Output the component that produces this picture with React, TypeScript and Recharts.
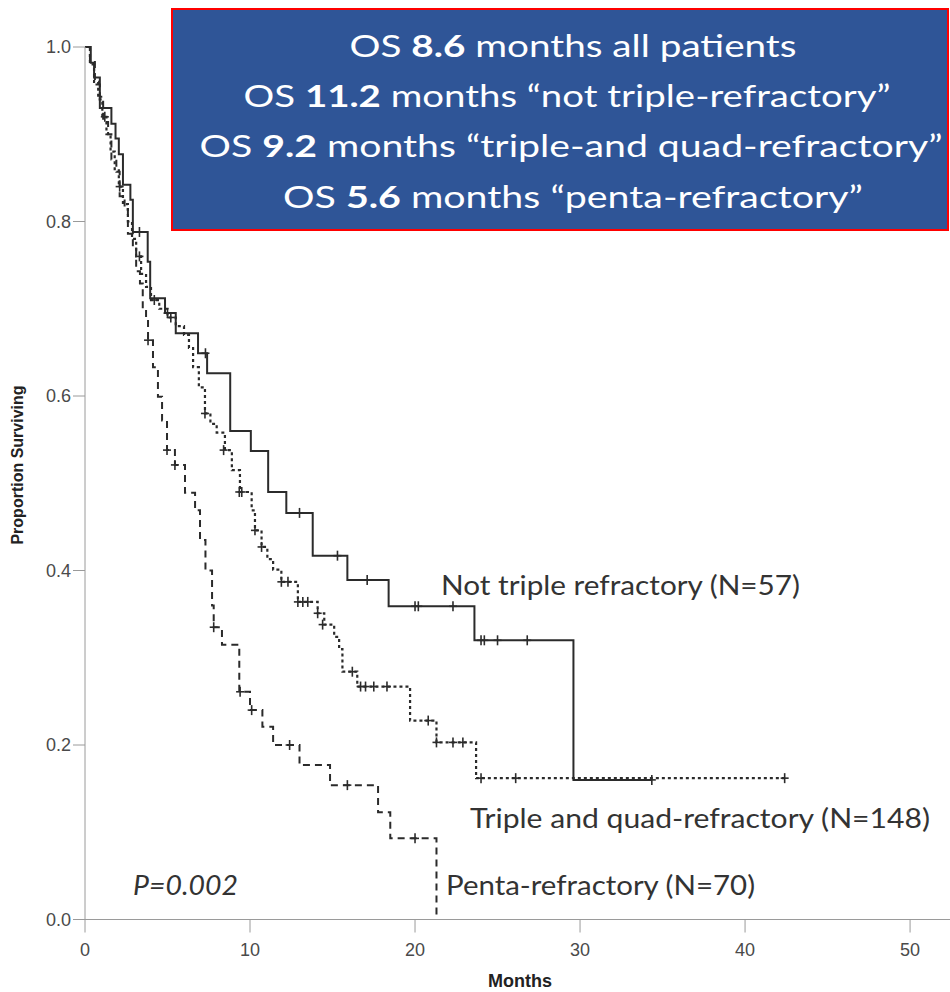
import { ComposedChart, Line, Scatter, XAxis, YAxis } from 'recharts'

// survival steps: [month, proportion surviving]
const notTripleSteps: [number, number][] = [
  [0, 1.0], [0.35, 0.982], [0.55, 0.965], [0.9, 0.93], [1.6, 0.912], [1.85, 0.895], [2.05, 0.877],
  [2.3, 0.842], [2.75, 0.825], [2.9, 0.788], [3.8, 0.754], [3.95, 0.712], [4.85, 0.695], [5.5, 0.672],
  [6.85, 0.649], [7.4, 0.626], [8.8, 0.56], [10.05, 0.537], [11.1, 0.49], [12.2, 0.466], [13.8, 0.417],
  [15.9, 0.389], [18.4, 0.359], [23.6, 0.32], [29.6, 0.16], [34.35, 0.16],
]

const tripleQuadSteps: [number, number][] = [
  [0, 1.0], [0.3, 0.98], [0.55, 0.96], [0.8, 0.94], [1.05, 0.92], [1.3, 0.9], [1.55, 0.88], [1.8, 0.86],
  [2.05, 0.84], [2.3, 0.82], [2.6, 0.8], [2.85, 0.78], [3.1, 0.76], [3.4, 0.74], [3.7, 0.725], [4.0, 0.71],
  [4.5, 0.7], [5.0, 0.69], [5.5, 0.68], [6.0, 0.67], [6.3, 0.655], [6.55, 0.633], [6.9, 0.61], [7.27, 0.58],
  [7.6, 0.568], [7.98, 0.558], [8.48, 0.538], [8.9, 0.515], [9.39, 0.49], [10.1, 0.469], [10.3, 0.446],
  [10.7, 0.427], [11.05, 0.413], [11.4, 0.401], [11.9, 0.387], [12.9, 0.364], [14.1, 0.351], [14.5, 0.338],
  [15.1, 0.324], [15.4, 0.31], [15.6, 0.284], [16.5, 0.267], [19.7, 0.228], [21.3, 0.203], [23.7, 0.162],
  [42.4, 0.162],
]

const pentaSteps: [number, number][] = [
  [0, 1.0], [0.3, 0.985], [0.6, 0.957], [0.9, 0.943], [1.1, 0.914], [1.4, 0.9], [1.6, 0.871], [1.9, 0.857],
  [2.1, 0.829], [2.4, 0.814], [2.6, 0.786], [2.9, 0.771], [3.1, 0.743], [3.33, 0.729], [3.5, 0.7], [3.7, 0.686],
  [3.82, 0.664], [4.12, 0.633], [4.42, 0.599], [4.67, 0.572], [4.97, 0.538], [5.45, 0.521], [6.06, 0.489],
  [6.67, 0.469], [6.97, 0.435], [7.3, 0.4], [7.7, 0.36], [7.8, 0.335], [8.3, 0.315], [9.35, 0.261],
  [10.0, 0.24], [10.75, 0.221], [11.4, 0.2], [13.0, 0.177], [14.85, 0.154], [17.76, 0.123], [18.5, 0.093],
  [21.3, 0.0],
]

// censored observations (+ marks)
const notTripleCensored: [number, number][] = [
  [3.3, 0.788], [5.0, 0.695], [7.3, 0.649], [13.0, 0.466], [15.3, 0.417], [17.1, 0.389], [20.0, 0.359],
  [20.2, 0.359], [22.3, 0.359], [24.0, 0.32], [24.2, 0.32], [25.0, 0.32], [26.8, 0.32], [34.35, 0.16],
]

const tripleQuadCensored: [number, number][] = [
  [1.2, 0.92], [2.1, 0.84], [3.3, 0.76], [4.2, 0.71], [5.2, 0.69], [7.27, 0.58], [8.4, 0.538], [9.35, 0.49],
  [9.5, 0.49], [10.3, 0.446], [10.7, 0.427], [11.9, 0.387], [12.3, 0.387], [12.9, 0.364], [13.2, 0.364],
  [13.5, 0.364], [14.1, 0.351], [14.4, 0.338], [16.2, 0.284], [16.7, 0.267], [17.0, 0.267], [17.5, 0.267],
  [18.3, 0.267], [20.8, 0.228], [21.3, 0.203], [22.3, 0.203], [22.9, 0.203], [24.0, 0.162], [26.1, 0.162],
  [42.4, 0.162],
]

const pentaCensored: [number, number][] = [
  [3.82, 0.664], [4.97, 0.538], [5.45, 0.521], [7.8, 0.335], [9.4, 0.261], [10.1, 0.24], [12.4, 0.2],
  [15.9, 0.154], [20.0, 0.093],
]

const monthTicks = [0, 10, 20, 30, 40, 50]
const survivalTicks = [0, 0.2, 0.4, 0.6, 0.8, 1.0]

const toRows = (pts: [number, number][]) => pts.map(([t, s]) => ({ t, s }))

const axisFont = '"Liberation Sans", Arial, sans-serif'
const textFont = 'Lato, "Open Sans", sans-serif'

function CensorMark(props: any) {
  const { cx, cy } = props
  if (cx == null || cy == null) return null
  return (
    <g stroke="#2b2b2b" strokeWidth={1.6}>
      <line x1={cx} y1={cy - 5} x2={cx} y2={cy + 5} />
      <line x1={cx - 4} y1={cy} x2={cx + 4} y2={cy} />
    </g>
  )
}

function MonthTick(props: any) {
  const { x, y, payload } = props
  return (
    <text x={x} y={y + 14} textAnchor="middle" fontFamily={axisFont} fontSize={18} fill="#4a4a4a">
      {payload.value}
    </text>
  )
}

function SurvivalTick(props: any) {
  const { x, y, payload } = props
  return (
    <text x={x} y={y + 6} textAnchor="end" fontFamily={axisFont} fontSize={18} fill="#4a4a4a">
      {Number(payload.value).toFixed(1)}
    </text>
  )
}

export default function App() {
  return (
    <div style={{ position: 'absolute', left: 0, top: 0, width: 950, height: 992, background: '#fff' }}>
      <ComposedChart width={950} height={992} margin={{ top: 47, right: 0, bottom: 32.5, left: 25 }}>
        <XAxis
          type="number"
          dataKey="t"
          domain={[0, 52.42]}
          ticks={monthTicks}
          tickSize={13}
          tickMargin={9}
          stroke="#9a9a9a"
          tick={<MonthTick />}
          height={40}
          allowDataOverflow
        />
        <YAxis
          type="number"
          dataKey="s"
          domain={[0, 1]}
          ticks={survivalTicks}
          tickSize={12}
          tickMargin={2}
          stroke="#9a9a9a"
          tick={<SurvivalTick />}
          width={60}
        />
        <Line data={toRows(notTripleSteps)} dataKey="s" type="stepAfter" stroke="#2b2b2b" strokeWidth={2}
          dot={false} isAnimationActive={false} />
        <Line data={toRows(tripleQuadSteps)} dataKey="s" type="stepAfter" stroke="#2b2b2b" strokeWidth={2.2}
          strokeDasharray="3 3" dot={false} isAnimationActive={false} />
        <Line data={toRows(pentaSteps)} dataKey="s" type="stepAfter" stroke="#2b2b2b" strokeWidth={2}
          strokeDasharray="7 5" dot={false} isAnimationActive={false} />
        <Scatter data={toRows(notTripleCensored)} dataKey="s" shape={<CensorMark />} isAnimationActive={false} />
        <Scatter data={toRows(tripleQuadCensored)} dataKey="s" shape={<CensorMark />} isAnimationActive={false} />
        <Scatter data={toRows(pentaCensored)} dataKey="s" shape={<CensorMark />} isAnimationActive={false} />
      </ComposedChart>

      <svg width={950} height={992} style={{ position: 'absolute', left: 0, top: 0, pointerEvents: 'none' }}>
        <text x={23} y={465} transform="rotate(-90 23 465)" textAnchor="middle" fontFamily={axisFont}
          fontWeight="bold" fontSize={16} fill="#222">Proportion Surviving</text>
        <text x={520} y={987} textAnchor="middle" fontFamily={axisFont} fontWeight="bold" fontSize={18}
          fill="#222">Months</text>

        <text x={441} y={595} fontFamily={textFont} fontSize={27} fill="#333" textLength={359}
          lengthAdjust="spacingAndGlyphs">Not triple refractory (N=57)</text>
        <text x={470} y={828} fontFamily={textFont} fontSize={27} fill="#333" textLength={460}
          lengthAdjust="spacingAndGlyphs">Triple and quad-refractory (N=148)</text>
        <text x={446} y={895} fontFamily={textFont} fontSize={27} fill="#333" textLength={309}
          lengthAdjust="spacingAndGlyphs">Penta-refractory (N=70)</text>
        <text x={133} y={895} fontFamily={textFont} fontStyle="italic" fontSize={27} fill="#333"
          textLength={105} lengthAdjust="spacingAndGlyphs">P=0.002</text>

        <rect x={172} y={9} width={776} height={221} fill="#2F5597" stroke="#FF0000" strokeWidth={2} />
        <g fontFamily={textFont} fontSize={31} fill="#fff" textAnchor="middle">
          <text x={573} y={57} textLength={447} lengthAdjust="spacingAndGlyphs">
            OS <tspan fontWeight="bold">8.6</tspan> months all patients
          </text>
          <text x={567} y={107} textLength={647} lengthAdjust="spacingAndGlyphs">
            OS <tspan fontWeight="bold">11.2</tspan> months “not triple-refractory”
          </text>
          <text x={571} y={157} textLength={743} lengthAdjust="spacingAndGlyphs">
            OS <tspan fontWeight="bold">9.2</tspan> months “triple-and quad-refractory”
          </text>
          <text x={573} y={208} textLength={580} lengthAdjust="spacingAndGlyphs">
            OS <tspan fontWeight="bold">5.6</tspan> months “penta-refractory”
          </text>
        </g>
      </svg>
    </div>
  )
}
